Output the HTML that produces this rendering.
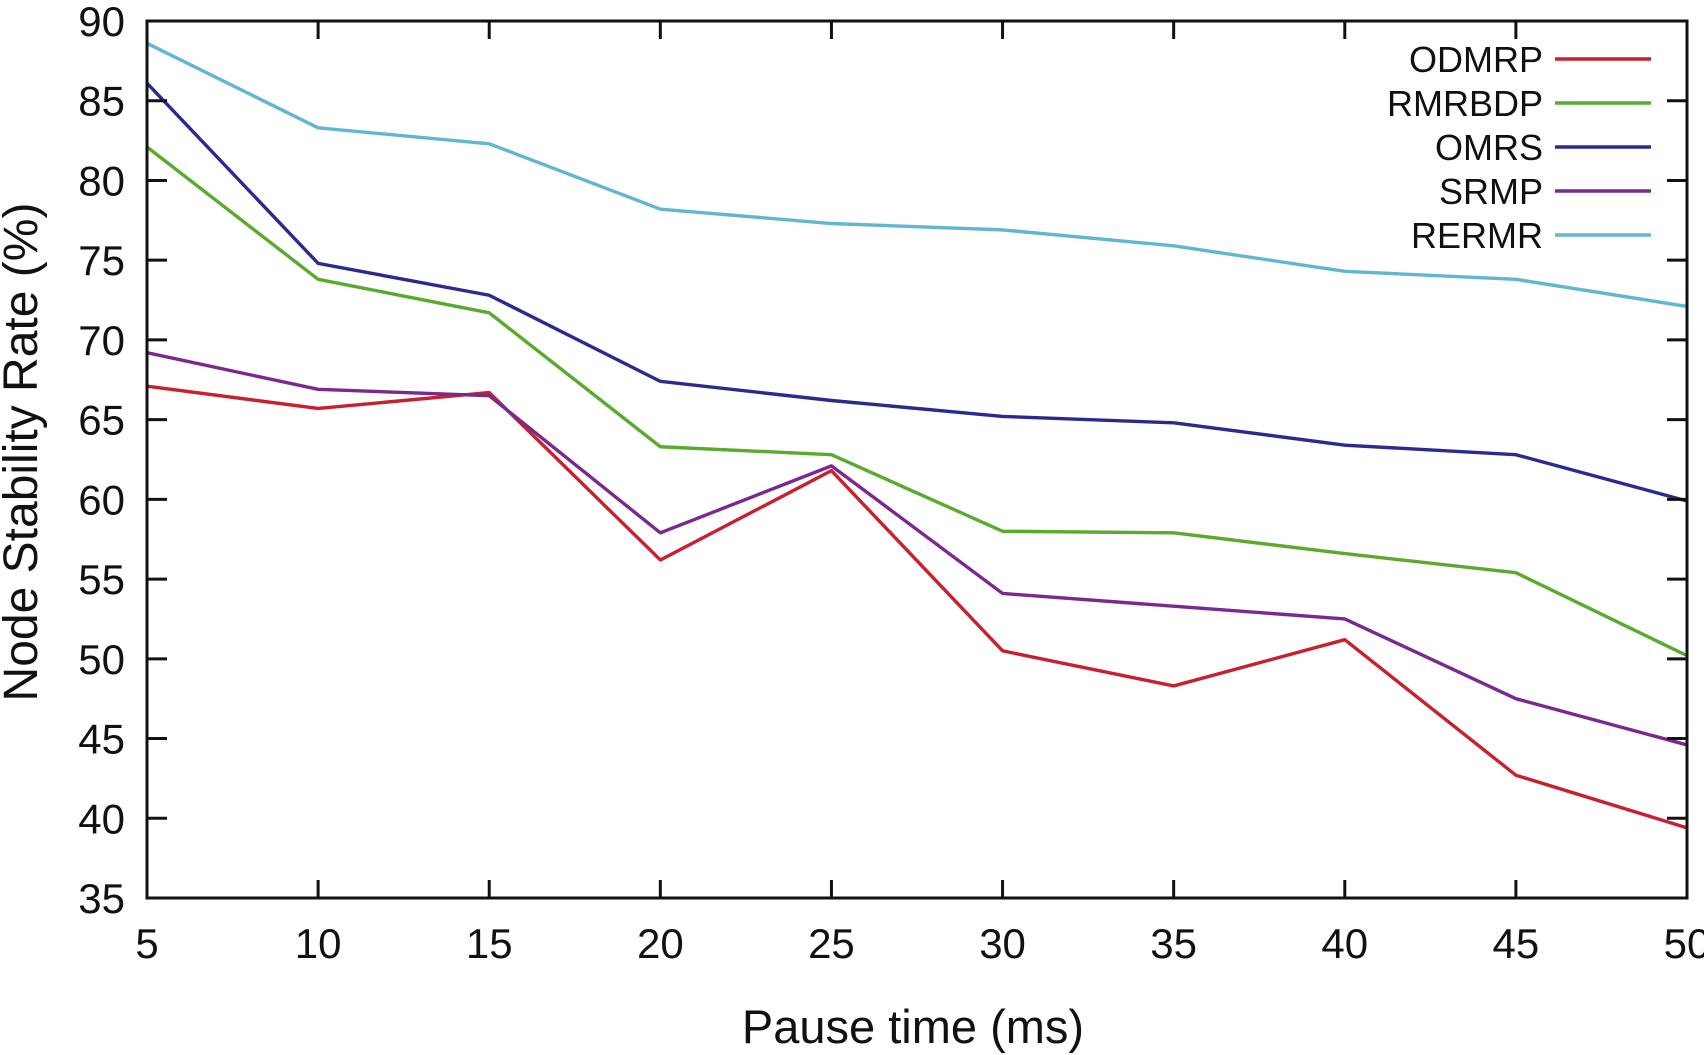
<!DOCTYPE html>
<html><head><meta charset="utf-8"><style>body{margin:0;background:#fff}svg{display:block;font-family:"Liberation Sans",sans-serif}</style></head>
<body>
<svg id="chart" width="1704" height="1055"></svg>
<script>
const categories=[5,10,15,20,25,30,35,40,45,50];
const yTicks=[35,40,45,50,55,60,65,70,75,80,85,90];
const seriesNames=["ODMRP","RMRBDP","OMRS","SRMP","RERMR"];
const seriesColors=["#c8202f","#5aaa2e","#2b2a8e","#7a2a8e","#62b6d2"];
const odmrp=[67.1,65.7,66.7,56.2,61.8,50.5,48.3,51.2,42.7,39.4];
const rmrbdp=[82.1,73.8,71.7,63.3,62.8,58.0,57.9,56.6,55.4,50.2];
const omrs=[86.1,74.8,72.8,67.4,66.2,65.2,64.8,63.4,62.8,59.9];
const srmp=[69.2,66.9,66.5,57.9,62.1,54.1,53.3,52.5,47.5,44.6];
const rermr=[88.6,83.3,82.3,78.2,77.3,76.9,75.9,74.3,73.8,72.1];
const seriesData=[odmrp,rmrbdp,omrs,srmp,rermr];
const L=147,R=1687,T=21,B=898;
const x=v=>L+(v-5)/45*(R-L);
const y=v=>B-(v-35)/55*(B-T);
const svg=document.getElementById('chart');
const NS='http://www.w3.org/2000/svg';
function mk(tag,attrs,parent){const e=document.createElementNS(NS,tag);for(const k in attrs)e.setAttribute(k,attrs[k]);(parent||svg).appendChild(e);return e;}
seriesData.forEach((d,i)=>{
  const p=mk('polyline',{points:d.map((v,j)=>x(categories[j])+','+y(v)).join(' '),fill:'none',stroke:seriesColors[i],'stroke-width':3.4,'stroke-linejoin':'round'});
  
  
});
const fr=mk('rect',{x:L,y:T,width:R-L,height:B-T,fill:'none',stroke:'#111','stroke-width':3});


yTicks.forEach(v=>{
  const yy=y(v);
  mk('line',{x1:L,x2:L+20,y1:yy,y2:yy,stroke:'#111','stroke-width':3});
  mk('line',{x1:R,x2:R-20,y1:yy,y2:yy,stroke:'#111','stroke-width':3});
  const t=mk('text',{x:L-22,y:yy+15,'text-anchor':'end','font-size':42,fill:'#111'});
  t.textContent=v;
  
  
});
categories.forEach(v=>{
  const xx=x(v);
  mk('line',{x1:xx,x2:xx,y1:B,y2:B-18,stroke:'#111','stroke-width':3});
  mk('line',{x1:xx,x2:xx,y1:T,y2:T+18,stroke:'#111','stroke-width':3});
  const t=mk('text',{x:xx,y:B+60,'text-anchor':'middle','font-size':42,fill:'#111'});
  t.textContent=v;
  
  
});
seriesNames.forEach((n,i)=>{
  const yy=59+i*44;
  const t=mk('text',{x:1543,y:yy+13,'text-anchor':'end','font-size':36,fill:'#111'});
  t.textContent=n;
  
  
  const l=mk('line',{x1:1555,x2:1651,y1:yy,y2:yy,stroke:seriesColors[i],'stroke-width':3.5});
  
  
});
const xt=mk('text',{x:913,y:1043,'text-anchor':'middle','font-size':47,fill:'#111'});
xt.textContent='Pause time (ms)';


const yt=mk('text',{x:0,y:0,transform:'translate(37,452) rotate(-90)','text-anchor':'middle','font-size':48,fill:'#111'});
yt.textContent='Node Stability Rate (%)';


</script>
</body></html>
